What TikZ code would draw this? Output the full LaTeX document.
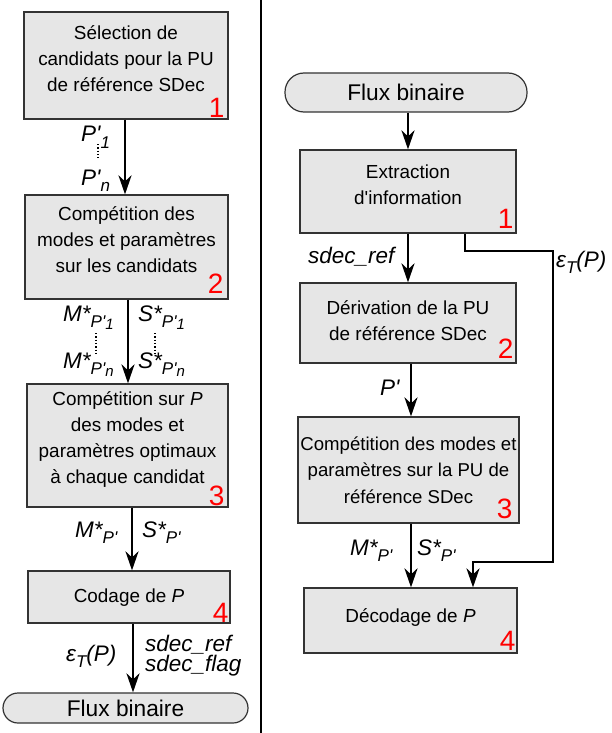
\documentclass[tikz,border=0pt]{standalone}
\usepackage{fontspec}
\setmainfont{Liberation Sans}
\usetikzlibrary{arrows.meta}
\definecolor{boxfill}{HTML}{E6E6E6}
\definecolor{boxline}{HTML}{333333}
\newcommand{\pq}{\textquotesingle}
\newcommand{\sbs}[1]{\raisebox{-6pt}{\fontsize{17}{17}\selectfont #1}}
\newcommand{\ssbs}[1]{\raisebox{-2pt}{\fontsize{15}{15}\selectfont #1}}
\begin{document}
\begin{tikzpicture}[x=1pt,y=-1pt,
  box/.style={draw=boxline,line width=1.2pt,fill=boxfill,rectangle,inner sep=0pt},
  term/.style={draw=boxline,line width=1.2pt,fill=boxfill,rectangle,inner sep=0pt},
  txt/.style={align=center,inner sep=0pt,font=\fontsize{18.9}{26}\selectfont},
  ttxt/.style={inner sep=0pt,font=\fontsize{22.7}{26}\selectfont},
  num/.style={anchor=base east,inner sep=0pt,text=red,font=\fontsize{28}{28}\selectfont},
  lab/.style={anchor=base west,inner sep=0pt,font=\fontsize{22.5}{19.5}\selectfont\itshape},
  arr/.style={line width=2.6pt,-{Stealth[length=19pt,width=13pt,inset=6pt]}},
  dots/.style={line width=1.3pt,dotted},
  divider/.style={line width=2.2pt}]
\useasboundingbox (0,0) rectangle (611,733);

% divider
\coordinate (dtop) at (261,0);
\coordinate (dbot) at (261,733);
\draw[divider] (dtop) -- (dbot);

% ---------- left column ----------
\node[box,minimum width=204pt,minimum height=107pt] (L1) at (126,65.5) {};
\node[txt] (L1t) at ([yshift=7pt]L1.center) {Sélection de\\candidats pour la PU\\de référence SDec};
\node[num] (L1n) at ([xshift=-4pt,yshift=2pt]L1.south east) {1};

\node[box,minimum width=203pt,minimum height=104pt] (L2) at (126.5,247) {};
\node[txt] (L2t) at ([yshift=7pt]L2.center) {Compétition des\\modes et paramètres\\sur les candidats};
\node[num] (L2n) at ([xshift=-5pt,yshift=6pt]L2.south east) {2};

\node[box,minimum width=201pt,minimum height=123pt] (L3) at (127.5,445.5) {};
\node[txt] (L3t) at ([yshift=6pt]L3.center) {Compétition sur \textit{P}\\des modes et\\paramètres optimaux\\à chaque candidat};
\node[num] (L3n) at ([xshift=-4pt,yshift=2pt]L3.south east) {3};

\node[box,minimum width=202pt,minimum height=52pt] (L4) at (129,597) {};
\node[txt] (L4t) at ([yshift=-1pt]L4.center) {Codage de \textit{P}};
\node[num] (L4n) at ([xshift=-2pt,yshift=1pt]L4.south east) {4};

\node[term,rounded corners=15pt,minimum width=245pt,minimum height=30pt] (LF) at (125.5,708) {};
\node[ttxt] (LFt) at (LF.center) {Flux binaire};

\draw[arr] ([xshift=-1pt]L1.south) -- ([xshift=-1.5pt]L2.north);
\draw[arr] ([xshift=1.5pt]L2.south) -- ([xshift=0.5pt]L3.north);
\draw[arr] ([xshift=4.5pt]L3.south) -- ([xshift=3pt]L4.north);
\draw[arr] ([xshift=4pt]L4.south) -- ([xshift=7.5pt]LF.north);

\node[lab] (p1) at (81,142) {P\pq\sbs{1}};
\node[lab] (pn) at (81,185) {P\pq\sbs{n}};
\coordinate (d1a) at (98,144); \coordinate (d1b) at (98,158);
\draw[dots] (d1a) -- (d1b);

\node[lab] (m1) at (63,321) {M*\sbs{P\pq\ssbs{1}}};
\node[lab] (s1) at (138,321) {S*\sbs{P\pq\ssbs{1}}};
\node[lab] (mn) at (63,368) {M*\sbs{P\pq\ssbs{n}}};
\node[lab] (sn) at (138,368) {S*\sbs{P\pq\ssbs{n}}};
\coordinate (d2a) at (96,333); \coordinate (d2b) at (96,353);
\coordinate (d3a) at (155,333); \coordinate (d3b) at (155,353);
\draw[dots] (d2a) -- (d2b);
\draw[dots] (d3a) -- (d3b);

\node[lab] (m3) at (75,537) {M*\sbs{P\pq}};
\node[lab] (s3) at (142,537) {S*\sbs{P\pq}};

\node[lab] (eL) at (66,661) {ε\sbs{T}(P)};
\node[lab,align=left] (sdL) at (145,671) {sdec\_ref\\sdec\_flag};

% ---------- right column ----------
\node[term,rounded corners=19pt,minimum width=242pt,minimum height=39pt] (RF) at (406,92.5) {};
\node[ttxt] (RFt) at (RF.center) {Flux binaire};

\node[box,minimum width=216pt,minimum height=83pt] (R1) at (408,191.5) {};
\node[txt] (R1t) at ([yshift=6.5pt]R1.center) {Extraction\\d\pq information};
\node[num] (R1n) at ([xshift=-3pt,yshift=5pt]R1.south east) {1};

\node[box,minimum width=216pt,minimum height=80pt] (R2) at (408,323) {};
\node[txt] (R2t) at ([yshift=2pt]R2.center) {Dérivation de la PU\\de référence SDec};
\node[num] (R2n) at ([xshift=-3pt,yshift=5pt]R2.south east) {2};

\node[box,minimum width=221pt,minimum height=106pt] (R3) at (408.5,470) {};
\node[txt,font=\fontsize{18.6}{26.5}\selectfont] (R3t) at (R3.center) {Compétition des modes et\\paramètres sur la PU de\\référence SDec};
\node[num] (R3n) at ([xshift=-7pt,yshift=5pt]R3.south east) {3};

\node[box,minimum width=213pt,minimum height=65pt] (R4) at (410.5,620.5) {};
\node[txt] (R4t) at ([yshift=3.5pt]R4.center) {Décodage de \textit{P}};
\node[num] (R4n) at ([xshift=-2pt,yshift=3pt]R4.south east) {4};

\draw[arr] ([xshift=2pt]RF.south) -- (R1.north);
\draw[arr] (R1.south) -- (R2.north);
\draw[arr] ([xshift=3pt]R2.south) -- ([xshift=2.5pt]R3.north);
\draw[arr] ([xshift=2.5pt]R3.south) -- ([xshift=0.5pt]R4.north);

\coordinate (k1) at (553,251);
\coordinate (k2) at (473,562);
\draw[arr] ([xshift=57pt]R1.south) |- (k1) |- (k2) -- (k2 |- R4.north);

\node[lab] (sdR) at (308,263) {sdec\_ref};
\node[lab] (eR) at (556,267) {ε\sbs{T}(P)};
\node[lab] (pR) at (380,395) {P\pq};
\node[lab] (mR) at (350,555) {M*\sbs{P\pq}};
\node[lab] (sR) at (417,555) {S*\sbs{P\pq}};
\end{tikzpicture}
\end{document}
